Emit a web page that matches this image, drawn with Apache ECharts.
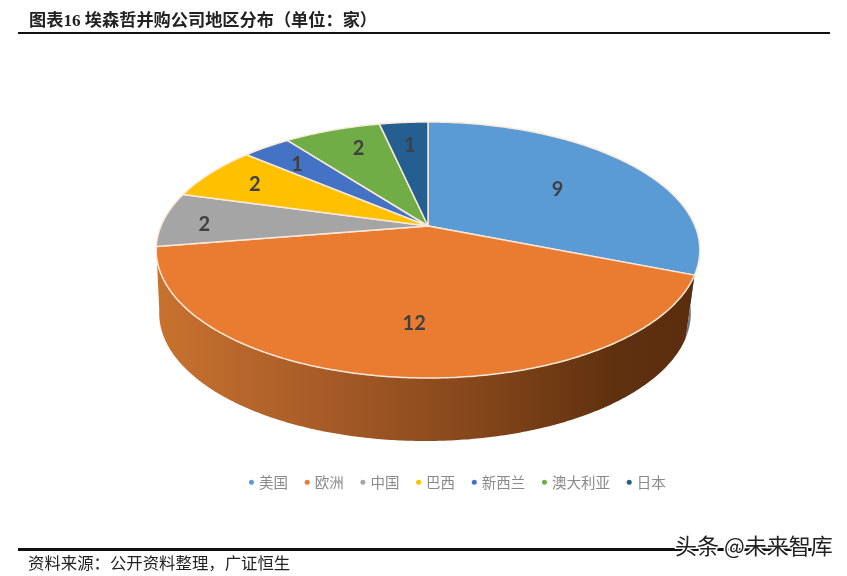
<!DOCTYPE html>
<html><head><meta charset="utf-8">
<style>html,body{margin:0;padding:0;background:#fff}#c{width:847px;height:576px}</style>
<script src="https://cdn.jsdelivr.net/npm/echarts@6/dist/echarts.min.js"></script>
</head><body><div id="c"></div>
<script>
var categories = ['美国','欧洲','中国','巴西','新西兰','澳大利亚','日本'];
var values = [9,12,2,2,1,2,1];
var colors = ['#5B9BD5','#E97C30','#A5A5A5','#FFC000','#4472C4','#70AD47','#255E91'];
var titleText = '图表16 埃森哲并购公司地区分布（单位：家）';
var sourceText = '资料来源：公开资料整理，广证恒生';
var watermark = '头条 @未来智库';

var total = values.reduce(function(a,b){return a+b;},0);
var CX=428, CY=226, A=267, B=123.5, K=0.1875;
var WALL_DROP=63, WALL_DX=-3, WALL_SX=0.978;
var labelReach=[.62,.69,.85,.79,.79,.76,.76];
var labelNudge=[[1,4],[9,0],[1,4],[1,1],[0,3],[6,-2],[1,1]];
function project(theta, r, bottom){
  var x=Math.sin(theta)*r, y=-Math.cos(theta)*r, w=1-K*y;
  return [CX+(bottom?WALL_DX:0)+(bottom?WALL_SX:1)*A*x/w, CY+(bottom?WALL_DROP:0)+B*y/w];
}
function arc(a0,a1,bottom){
  var n=Math.max(4,Math.ceil((a1-a0)/0.01)),p=[];
  for(var i=0;i<=n;i++) p.push(project(a0+(a1-a0)*i/n,1,bottom));
  return p;
}
function startAngle(i){
  var s=0; for(var j=0;j<i;j++) s+=values[j];
  return s/total*Math.PI*2;
}
function wallFill(i){
  if(i===0) return '#6f7780';
  return new echarts.graphic.LinearGradient(0,0,1,0,[
    {offset:0,color:'#C9722F'},{offset:.3,color:'#A85C28'},
    {offset:.6,color:'#84461A'},{offset:.85,color:'#60310F'},{offset:1,color:'#5A2D0E'}]);
}
function renderSlice(i){
  return function(params,api){
    var v=api.value(0), a0=startAngle(i), a1=a0+v/total*Math.PI*2;
    var kids=[];
    if(i<2){
      var wa0=i===0?Math.PI*0.5:a0;
      var top=arc(wa0,a1,false), bot=arc(wa0,a1,true).reverse();
      kids.push({type:'polygon',z2:1,shape:{points:top.concat(bot)},style:{fill:wallFill(i),stroke:null}});
    }
    var pts=[[CX,CY]].concat(arc(a0,a1,false));
    kids.push({type:'polygon',z2:2,shape:{points:pts},
      style:{fill:colors[i],stroke:'#FBE9D8',lineWidth:1.5,lineJoin:'round'}});
    var mid=(a0+a1)/2, lp=project(mid,labelReach[i],false);
    kids.push({type:'text',z2:5,style:{text:String(v),x:lp[0]+labelNudge[i][0],y:lp[1]+labelNudge[i][1],align:'center',verticalAlign:'middle',
      fill:'#404040',font:'bold 20px Lato,"Open Sans",sans-serif'}});
    return {type:'group',children:kids};
  };
}
var series=categories.map(function(name,i){
  return {type:'custom',name:name,coordinateSystem:'none',silent:true,animation:false,
    itemStyle:{color:colors[i]},data:[[values[i]]],renderItem:renderSlice(i),z:i<2?2:3};
});
var chart=echarts.init(document.getElementById('c'),null,{renderer:'canvas'});
chart.setOption({
  backgroundColor:'#fff',animation:false,
  title:{text:titleText,left:24,top:8,textStyle:{fontFamily:'"Liberation Serif","Noto Sans CJK SC"',fontSize:17.2,fontWeight:'bold',color:'#222'}},
  legend:{data:categories,top:470,left:244,icon:'circle',itemWidth:5,itemHeight:5,itemGap:16.7,selectedMode:false,
    textStyle:{fontFamily:'"Noto Sans CJK SC"',fontSize:14.5,color:'#8a8a8a',padding:[0,0,0,0]}},
  graphic:[
    {type:'rect',z:10,shape:{x:18,y:32,width:812,height:2},style:{fill:'#111'}},
    {type:'rect',z:10,shape:{x:18,y:548,width:812,height:3},style:{fill:'#111'}},
    {type:'text',z:10,x:28,y:555,style:{text:sourceText,fill:'#222',font:'16.4px "Noto Sans CJK SC"'}},
    {type:'text',z:11,x:675,y:535,style:{text:watermark,fill:'#222',stroke:'#fff',lineWidth:3,font:'22px "Noto Sans CJK SC"'}}
  ],
  series:series
});
</script></body></html>
